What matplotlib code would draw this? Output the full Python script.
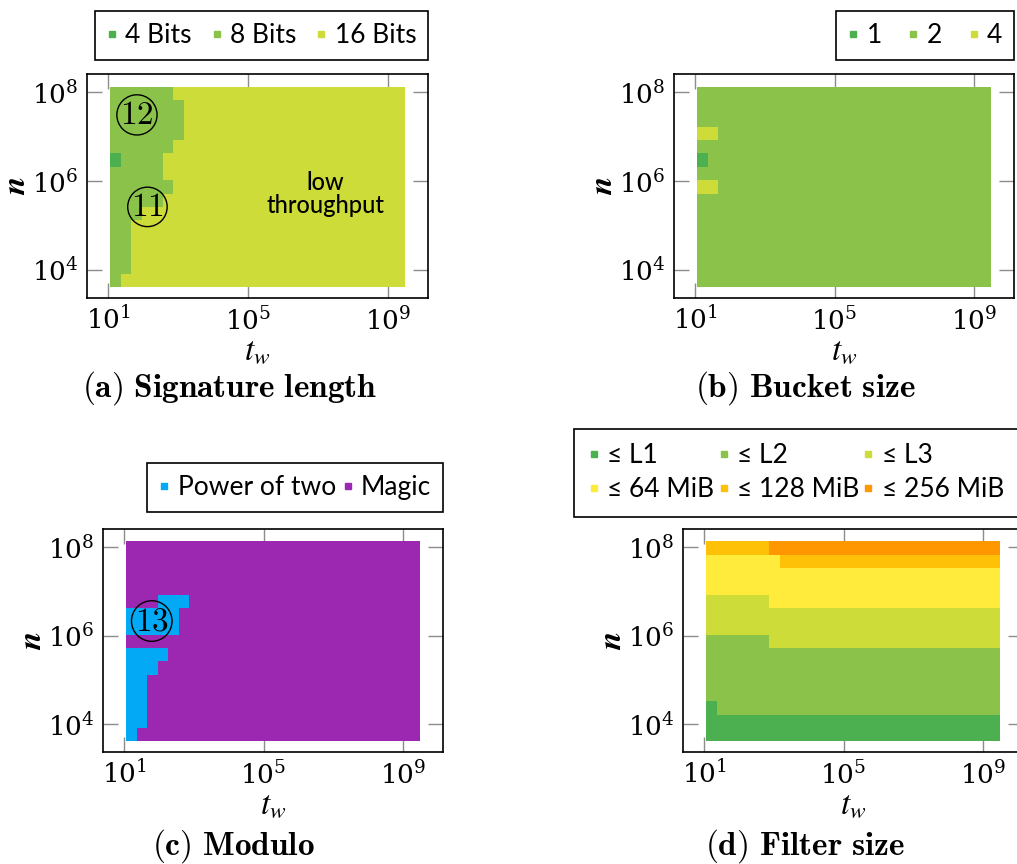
import numpy as np
import matplotlib.pyplot as plt
from matplotlib.colors import ListedColormap
from matplotlib.lines import Line2D

plt.rcParams['mathtext.fontset'] = 'cm'
plt.rcParams['font.family'] = 'DejaVu Serif'
SANS = ['Lato', 'DejaVu Sans']

# grid: t_w = 2^4 .. 2^31 (28 columns), n rows with edges 2^12 .. 2^27 (15 rows)
tw_exp = np.arange(4, 32)
n_edge_exp = np.arange(12, 28)

# each row is a run-length list (category, count), top row first
sig_labels = ['4 Bits', '8 Bits', '16 Bits']
sig_colors = ['#4CAF50', '#8BC34A', '#CDDC39']
sig_rows = [
    [(1, 6), (2, 22)],
    [(1, 7), (2, 21)],
    [(1, 7), (2, 21)],
    [(1, 7), (2, 21)],
    [(1, 6), (2, 22)],
    [(0, 1), (1, 4), (2, 23)],
    [(1, 5), (2, 23)],
    [(1, 6), (2, 22)],
    [(1, 5), (2, 23)],
    [(1, 3), (2, 25)],
    [(1, 2), (2, 26)],
    [(1, 2), (2, 26)],
    [(1, 2), (2, 26)],
    [(1, 2), (2, 26)],
    [(1, 1), (2, 27)],
]

bucket_labels = ['1', '2', '4']
bucket_colors = ['#4CAF50', '#8BC34A', '#CDDC39']
bucket_rows = [
    [(1, 28)],
    [(1, 28)],
    [(1, 28)],
    [(2, 2), (1, 26)],
    [(1, 28)],
    [(0, 1), (1, 27)],
    [(1, 28)],
    [(2, 2), (1, 26)],
    [(1, 28)],
    [(1, 28)],
    [(1, 28)],
    [(1, 28)],
    [(1, 28)],
    [(1, 28)],
    [(1, 28)],
]

mod_labels = ['Power of two', 'Magic']
mod_colors = ['#03A9F4', '#9C27B0']
mod_rows = [
    [(1, 28)],
    [(1, 28)],
    [(1, 28)],
    [(1, 28)],
    [(1, 3), (0, 3), (1, 22)],
    [(0, 5), (1, 23)],
    [(0, 5), (1, 23)],
    [(1, 28)],
    [(0, 4), (1, 24)],
    [(0, 3), (1, 25)],
    [(0, 2), (1, 26)],
    [(0, 2), (1, 26)],
    [(0, 2), (1, 26)],
    [(0, 2), (1, 26)],
    [(0, 1), (1, 27)],
]

filt_labels = ['≤ L1', '≤ L2', '≤ L3', '≤ 64 MiB', '≤ 128 MiB', '≤ 256 MiB']
filt_colors = ['#4CAF50', '#8BC34A', '#CDDC39', '#FFEB3B', '#FFC107', '#FF9800']
filt_rows = [
    [(4, 6), (5, 22)],
    [(3, 7), (4, 21)],
    [(3, 28)],
    [(3, 28)],
    [(2, 6), (3, 22)],
    [(2, 28)],
    [(2, 28)],
    [(1, 6), (2, 22)],
    [(1, 28)],
    [(1, 28)],
    [(1, 28)],
    [(1, 28)],
    [(0, 1), (1, 27)],
    [(0, 28)],
    [(0, 28)],
]


def expand(rows):
    grid = []
    for row in rows:
        line = []
        for cat, cnt in row:
            line += [cat] * cnt
        grid.append(line)
    return np.array(grid[::-1])  # bottom row first


x_edges = 2.0 ** np.append(tw_exp - 0.5, tw_exp[-1] + 0.5)
y_edges = 2.0 ** n_edge_exp

W, H = 1017, 864
fig = plt.figure(figsize=(W / 100, H / 100), dpi=100)


def px_axes(l, r, t, b):
    return fig.add_axes([l / W, 1 - b / H, (r - l) / W, (b - t) / H])


def panel(ax, rows, colors, labels, ncol, anchor, loc='lower right', order=None,
          colsp=0.6, lsp=0.2, bpad=0.45):
    grid = expand(rows)
    ax.pcolormesh(x_edges, y_edges, grid, cmap=ListedColormap(colors),
                  vmin=-0.5, vmax=len(colors) - 0.5, zorder=1)
    ax.set_xscale('log')
    ax.set_yscale('log')
    ax.set_xlim(10 ** 0.39, 10 ** 10.15)
    ax.set_ylim(10 ** 3.37, 10 ** 8.41)
    ax.set_xticks([1e1, 1e5, 1e9])
    ax.set_yticks([1e4, 1e6, 1e8])
    ax.minorticks_off()
    ax.set_axisbelow(True)
    ax.tick_params(direction='in', length=11, width=1, color='#8c8c8c',
                   top=True, right=True, labelsize=19, pad=6)
    for s in ax.spines.values():
        s.set_linewidth(1.2)
    ax.set_xlabel(r'$\boldsymbol{t_w}$', fontsize=24, math_fontfamily='stix', labelpad=0)
    ax.set_ylabel(r'$\boldsymbol{n}$', fontsize=24, math_fontfamily='stix', labelpad=0)

    handles = [Line2D([], [], marker='s', linestyle='none', color=c, markersize=5)
               for c in colors]
    if order is not None:
        handles = [handles[i] for i in order]
        labels = [labels[i] for i in order]
    leg = ax.legend(handles, labels, loc=loc, bbox_to_anchor=anchor,
                    ncol=ncol, fancybox=False, edgecolor='black', framealpha=1,
                    prop={'family': SANS, 'size': 19}, handlelength=0.4,
                    handletextpad=0.3, columnspacing=colsp, borderpad=bpad,
                    borderaxespad=0, labelspacing=lsp)
    leg.get_frame().set_linewidth(1.2)
    return ax


ax_a = px_axes(87, 428, 74, 298)
panel(ax_a, sig_rows, sig_colors, sig_labels, 3, (1, 1.063), colsp=0.75)
ax_b = px_axes(674, 1014, 74, 298)
panel(ax_b, bucket_rows, bucket_colors, bucket_labels, 3, (1, 1.063), colsp=1.0)
ax_c = px_axes(103, 443, 529, 752)
panel(ax_c, mod_rows, mod_colors, mod_labels, 2, (1, 1.076), colsp=0.25)
ax_d = px_axes(683, 1023, 529, 752)
panel(ax_d, filt_rows, filt_colors, filt_labels, 3,
      (-0.32, 1.054), loc='lower left', order=[0, 3, 1, 4, 2, 5], colsp=0.15,
      lsp=0.35, bpad=0.55)

# circled annotations
circ = dict(boxstyle='circle,pad=0.1', fc='none', ec='black', lw=1)
ax_a.text(10 ** 1.82, 10 ** 7.49, r'$12$', fontsize=24, ha='center', va='center', bbox=circ)
ax_a.text(10 ** 2.12, 10 ** 5.42, r'$11$', fontsize=24, ha='center', va='center', bbox=circ)
ax_c.text(10 ** 1.79, 10 ** 6.33, r'$13$', fontsize=24, ha='center', va='center', bbox=circ)
ax_a.text(10 ** 7.21, 10 ** 5.71, 'low\nthroughput', family=SANS, fontweight='medium',
          fontsize=17, ha='center', va='center', multialignment='center', linespacing=1.05)

# captions
cap = dict(fontsize=24, ha='center', va='center')
fig.text(230 / W, 1 - 388 / H, r'$\mathbf{(a)\ Signature\ length}$', **cap)
fig.text(805 / W, 1 - 388 / H, r'$\mathbf{(b)\ Bucket\ size}$', **cap)
fig.text(233 / W, 1 - 846 / H, r'$\mathbf{(c)\ Modulo}$', **cap)
fig.text(805 / W, 1 - 846 / H, r'$\mathbf{(d)\ Filter\ size}$', **cap)

fig.savefig('out.png', dpi=100)
